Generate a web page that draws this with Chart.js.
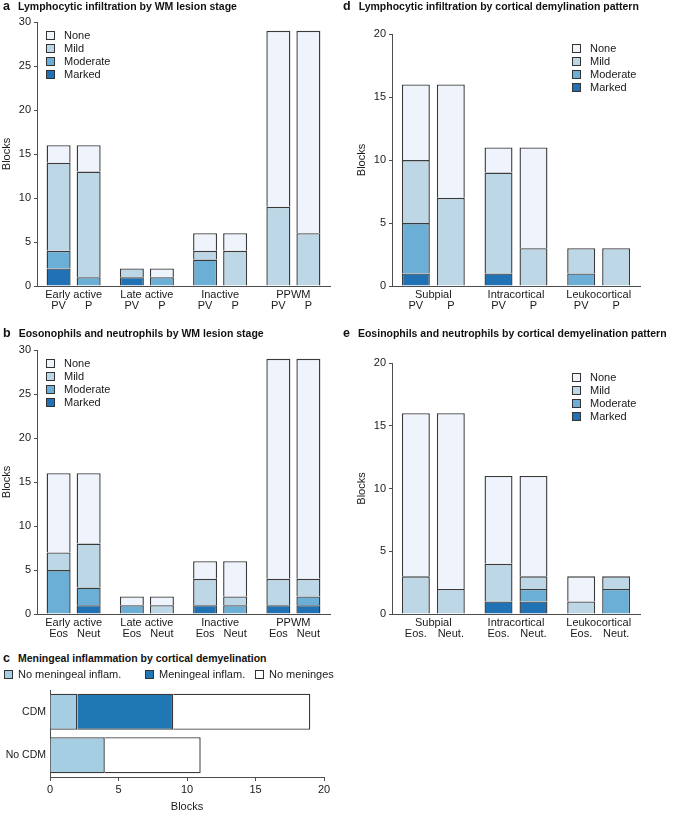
<!DOCTYPE html>
<html>
<head>
<meta charset="utf-8">
<script src="https://cdn.jsdelivr.net/npm/chart.js@4.4.0/dist/chart.umd.min.js"></script>
<style>
  body { margin: 0; background: #fff; font-family: "Liberation Sans", Arial, Helvetica, sans-serif; }
  #fig { position: relative; width: 677px; height: 814px; overflow: hidden; }
  canvas { position: absolute; }
  .ptitle { position: absolute; font-size: 10.5px; font-weight: bold; color: #111; white-space: nowrap; line-height: 13px; }
  .ptitle b { font-size: 12.5px; margin-right: 8px; }
  .legend { position: absolute; font-size: 11px; color: #1a1a1a; line-height: 13px; white-space: nowrap; }
  .legend .box { display: inline-block; width: 7px; height: 7px; border: 1px solid #333; margin-right: 9px; vertical-align: -1px; }
</style>
</head>
<body>
<div id="fig">
  <canvas id="chartA" width="340" height="320" style="left:0;top:0"></canvas>
  <canvas id="chartD" width="337" height="320" style="left:340px;top:0"></canvas>
  <canvas id="chartB" width="340" height="324" style="left:0;top:324px"></canvas>
  <canvas id="chartE" width="337" height="324" style="left:340px;top:324px"></canvas>
  <canvas id="chartC" width="340" height="135" style="left:0;top:679px"></canvas>

  <div class="ptitle" style="left:3px;top:0"><b>a</b>Lymphocytic infiltration by WM lesion stage</div>
  <div class="ptitle" style="left:343px;top:0"><b>d</b>Lymphocytic infiltration by cortical demylination pattern</div>
  <div class="ptitle" style="left:3px;top:327px"><b>b</b>Eosonophils and neutrophils by WM lesion stage</div>
  <div class="ptitle" style="left:343px;top:327px"><b>e</b>Eosinophils and neutrophils by cortical demyelination pattern</div>
  <div class="ptitle" style="left:3px;top:652px"><b>c</b>Meningeal inflammation by cortical demyelination</div>

  <div class="legend" id="legA" style="left:46px;top:29px"></div>
  <div class="legend" id="legD" style="left:572px;top:42px"></div>
  <div class="legend" id="legB" style="left:46px;top:357px"></div>
  <div class="legend" id="legE" style="left:572px;top:371px"></div>
  <div class="legend" id="legC" style="left:4px;top:668px;width:334px;height:13px"></div>
</div>

<script>
Chart.defaults.font.family = '"Liberation Sans", Arial, Helvetica, sans-serif';
Chart.defaults.font.size = 11;
Chart.defaults.color = '#1a1a1a';
Chart.defaults.animation = false;

// grades, stacked bottom -> top
const gradeNames  = ['Marked', 'Moderate', 'Mild', 'None'];
const gradeColors = ['#2171b5', '#6baed6', '#bdd7e7', '#eef3fc'];
const edge = '#3a3a3a';
const axisGrey = '#4d4d4d';

// a: lymphocytic infiltration by WM lesion stage
const wmStages = ['Early active', 'Late active', 'Inactive', 'PPWM'];
const aPV_marked   = [2, 1, 0, 0];
const aPV_moderate = [2, 0, 3, 0];
const aPV_mild     = [10, 1, 1, 9];
const aPV_none     = [2, 0, 2, 20];
const aP_marked    = [0, 0, 0, 0];
const aP_moderate  = [1, 1, 0, 0];
const aP_mild      = [12, 0, 4, 6];
const aP_none      = [3, 1, 2, 23];

// b: eosinophils / neutrophils by WM lesion stage
const bEos_marked    = [0, 0, 1, 1];
const bEos_moderate  = [5, 1, 0, 0];
const bEos_mild      = [2, 0, 3, 3];
const bEos_none      = [9, 1, 2, 25];
const bNeut_marked   = [1, 0, 0, 1];
const bNeut_moderate = [2, 0, 1, 1];
const bNeut_mild     = [5, 1, 1, 2];
const bNeut_none     = [8, 1, 4, 25];

// d: lymphocytic infiltration by cortical pattern
const cortPatterns = ['Subpial', 'Intracortical', 'Leukocortical'];
const dPV_marked   = [1, 1, 0];
const dPV_moderate = [4, 0, 1];
const dPV_mild     = [5, 8, 2];
const dPV_none     = [6, 2, 0];
const dP_marked    = [0, 0, 0];
const dP_moderate  = [0, 0, 0];
const dP_mild      = [7, 3, 3];
const dP_none      = [9, 8, 0];

// e: eosinophils / neutrophils by cortical pattern
const eEos_marked    = [0, 1, 0];
const eEos_moderate  = [0, 0, 0];
const eEos_mild      = [3, 3, 1];
const eEos_none      = [13, 7, 2];
const eNeut_marked   = [0, 1, 0];
const eNeut_moderate = [0, 1, 2];
const eNeut_mild     = [2, 1, 1];
const eNeut_none     = [14, 8, 0];

// c: meningeal inflammation
const cdmGroups   = ['CDM', 'No CDM'];
const menLabels   = ['No meningeal inflam.', 'Meningeal inflam.', 'No meninges'];
const menColors   = ['#a6cee3', '#1f78b4', '#ffffff'];
const menNoInflam = [2, 4];
const menInflam   = [7, 0];
const menNone     = [10, 7];

// second row of x labels (PV / P, Eos / Neut) under each bar of a group
const subLabelPlugin = {
  id: 'subLabels',
  afterDraw(chart, args, opts) {
    if (!opts.labels) return;
    const xs = chart.scales.x, ctx = chart.ctx;
    const n = chart.data.labels.length, k = opts.labels.length;
    const slot = opts.catPct * (xs.width / n) / k;
    ctx.save();
    ctx.font = '11px ' + Chart.defaults.font.family;
    ctx.fillStyle = '#1a1a1a';
    ctx.textAlign = 'center';
    ctx.textBaseline = 'middle';
    for (let i = 0; i < n; i++) {
      const c = xs.getPixelForValue(i);
      opts.labels.forEach((lab, j) => {
        ctx.fillText(lab, c + (j - (k - 1) / 2) * slot, chart.chartArea.bottom + opts.offset);
      });
    }
    ctx.restore();
  }
};

function stackedPanel(id, categories, subLabels, stacks, yMax, pad, catPct) {
  const datasets = [];
  stacks.forEach((series, k) => {
    series.forEach((vals, g) => {
      datasets.push({
        label: gradeNames[g],
        stack: 's' + k,
        data: vals.map(v => v === 0 ? null : v),
        backgroundColor: gradeColors[g],
        borderColor: edge,
        borderWidth: 1.4,
        categoryPercentage: catPct,
        barPercentage: 0.8
      });
    });
  });
  return new Chart(document.getElementById(id), {
    type: 'bar',
    data: { labels: categories, datasets },
    options: {
      responsive: false,
      layout: { padding: pad },
      plugins: {
        legend: { display: false },
        tooltip: { enabled: false },
        subLabels: { labels: subLabels, catPct, offset: 20 }
      },
      scales: {
        x: {
          stacked: true,
          grid: { display: false, drawTicks: false },
          border: { display: true, color: axisGrey },
          ticks: { padding: 2, maxRotation: 0, autoSkip: false },
          afterFit: s => { s.height = 34; }
        },
        y: {
          stacked: true, min: 0, max: yMax,
          ticks: { stepSize: 5, padding: 3 },
          grid: { drawOnChartArea: false, tickLength: 3, color: axisGrey },
          border: { color: axisGrey },
          title: { display: true, text: 'Blocks', padding: 0 },
          afterFit: s => { s.width = 37; }
        }
      }
    },
    plugins: [subLabelPlugin]
  });
}

stackedPanel('chartA', wmStages, ['PV', 'P'],
  [[aPV_marked, aPV_moderate, aPV_mild, aPV_none], [aP_marked, aP_moderate, aP_mild, aP_none]],
  30, { top: 22, left: 0, right: 10, bottom: 0 }, 0.82);

stackedPanel('chartB', wmStages, ['Eos', 'Neut'],
  [[bEos_marked, bEos_moderate, bEos_mild, bEos_none], [bNeut_marked, bNeut_moderate, bNeut_mild, bNeut_none]],
  30, { top: 26, left: 0, right: 10, bottom: 0 }, 0.82);

stackedPanel('chartD', cortPatterns, ['PV', 'P'],
  [[dPV_marked, dPV_moderate, dPV_mild, dPV_none], [dP_marked, dP_moderate, dP_mild, dP_none]],
  20, { top: 34, left: 15, right: 37, bottom: 0 }, 0.846);

stackedPanel('chartE', cortPatterns, ['Eos.', 'Neut.'],
  [[eEos_marked, eEos_moderate, eEos_mild, eEos_none], [eNeut_marked, eNeut_moderate, eNeut_mild, eNeut_none]],
  20, { top: 39, left: 15, right: 37, bottom: 0 }, 0.846);

// c: horizontal stacked bars
new Chart(document.getElementById('chartC'), {
  type: 'bar',
  data: {
    labels: cdmGroups,
    datasets: [menNoInflam, menInflam, menNone].map((vals, i) => ({
      label: menLabels[i],
      data: vals.map(v => v === 0 ? null : v),
      backgroundColor: menColors[i],
      borderColor: edge,
      borderWidth: 1.4,
      categoryPercentage: 1,
      barPercentage: 0.83
    }))
  },
  options: {
    indexAxis: 'y',
    responsive: false,
    layout: { padding: { top: 11, left: 0, right: 16, bottom: 0 } },
    plugins: { legend: { display: false }, tooltip: { enabled: false } },
    scales: {
      x: {
        stacked: true, min: 0, max: 20,
        ticks: { stepSize: 5, padding: 2 },
        grid: { drawOnChartArea: false, tickLength: 4, color: axisGrey },
        border: { color: axisGrey },
        title: { display: true, text: 'Blocks', padding: 0 },
        afterFit: s => { s.height = 37; }
      },
      y: {
        stacked: true,
        grid: { display: false, drawTicks: false },
        border: { display: true, color: axisGrey },
        ticks: { padding: 4, font: { size: 10.5 } },
        afterFit: s => { s.width = 50; }
      }
    }
  }
});

// html legends
function gradeLegend(id) {
  document.getElementById(id).innerHTML = gradeNames.slice().reverse().map((name, i) =>
    `<div><span class="box" style="background:${gradeColors[3 - i]}"></span>${name}</div>`).join('');
}
['legA', 'legB', 'legD', 'legE'].forEach(gradeLegend);

const legC = document.getElementById('legC');
const legCPos = [0, 141, 251];
legC.innerHTML = menLabels.map((name, i) =>
  `<span style="position:absolute;left:${legCPos[i]}px;top:0"><span class="box" style="background:${menColors[i]};margin-right:5px"></span>${name}</span>`).join('');
</script>
</body>
</html>
